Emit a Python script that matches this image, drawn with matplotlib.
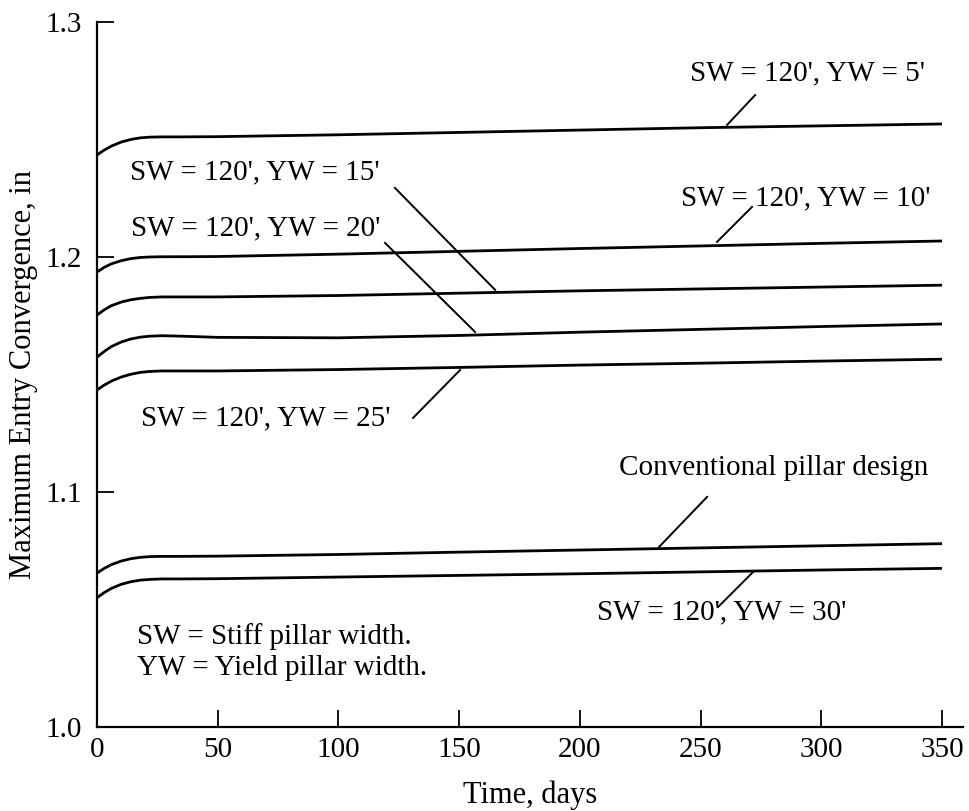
import matplotlib.pyplot as plt

plt.rcParams['font.family'] = ['Liberation Serif', 'DejaVu Serif']

# Zeit in Tagen
days = [0, 3, 6, 10, 14, 18, 22, 27, 35, 50, 100, 150, 200, 250, 300, 350]

# Konvergenz je Kurve, in inch
yw5 = [1.2434, 1.2455, 1.2472, 1.2489, 1.2500, 1.2507, 1.2510, 1.2511, 1.2511, 1.2512,
       1.2520, 1.2530, 1.2540, 1.2550, 1.2558, 1.2566]
yw10 = [1.1936, 1.1956, 1.1971, 1.1984, 1.1993, 1.1998, 1.2000, 1.2001, 1.2001, 1.2002,
        1.2012, 1.2024, 1.2036, 1.2047, 1.2058, 1.2068]
yw15 = [1.1753, 1.1775, 1.1793, 1.1808, 1.1818, 1.1824, 1.1828, 1.1830, 1.1830, 1.1830,
        1.1836, 1.1846, 1.1856, 1.1864, 1.1872, 1.1880]
yw20 = [1.1574, 1.1598, 1.1619, 1.1638, 1.1651, 1.1659, 1.1663, 1.1665, 1.1663, 1.1658,
        1.1656, 1.1666, 1.1680, 1.1692, 1.1704, 1.1715]
yw25 = [1.1434, 1.1455, 1.1472, 1.1489, 1.1501, 1.1509, 1.1513, 1.1515, 1.1515, 1.1515,
        1.1521, 1.1530, 1.1540, 1.1548, 1.1557, 1.1565]
conv = [1.0655, 1.0675, 1.0691, 1.0706, 1.0716, 1.0722, 1.0725, 1.0726, 1.0726, 1.0727,
        1.0734, 1.0744, 1.0753, 1.0762, 1.0771, 1.0780]
yw30 = [1.0550, 1.0572, 1.0590, 1.0607, 1.0618, 1.0625, 1.0628, 1.0630, 1.0630, 1.0631,
        1.0638, 1.0645, 1.0652, 1.0660, 1.0668, 1.0675]

curves = [yw5, yw10, yw15, yw20, yw25, conv, yw30]

# Beschriftungen: Text, Textposition, Hinweislinie (von, nach)
labels = ["SW = 120', YW = 5'", "SW = 120', YW = 10'", "SW = 120', YW = 15'",
          "SW = 120', YW = 20'", "SW = 120', YW = 25'", "Conventional pillar design",
          "SW = 120', YW = 30'"]
label_pos = [(294.3, 1.2783), (293.7, 1.2251), (65.2, 1.2362), (65.9, 1.2123),
             (69.8, 1.1315), (280.4, 1.1102), (258.9, 1.0489)]
leader_from = [(272.6, 1.2689), (271.3, 1.2213), (123.4, 1.2294), (119.3, 1.2060),
               (130.9, 1.1315), (252.7, 1.0979), (271.8, 1.0660)]
leader_to = [(261.0, 1.2562), (256.8, 1.2064), (164.9, 1.1860), (156.6, 1.1681),
             (150.4, 1.1519), (232.8, 1.0766), (257.3, 1.0511)]

fig = plt.figure(figsize=(9.69, 8.11), dpi=100)
ax = fig.add_axes([0.1001, 0.1036, 0.8937, 0.8693])

for c in curves:
    ax.plot(days, c, color='black', lw=2.0, solid_capstyle='butt')

for txt, p, a, b in zip(labels, label_pos, leader_from, leader_to):
    ax.text(p[0], p[1], txt, fontsize=21, ha='center', va='center')
    ax.plot([a[0], b[0]], [a[1], b[1]], color='black', lw=1.4)

ax.text(16.6, 1.0387, 'SW = Stiff pillar width.', fontsize=21, va='center')
ax.text(16.6, 1.0251, 'YW = Yield pillar width.', fontsize=21, va='center')

ax.set_xlim(0, 358.7)
ax.set_ylim(1.0, 1.3)
ax.set_xticks(range(0, 351, 50))
ax.set_yticks([1.0, 1.1, 1.2, 1.3])
ax.set_yticklabels(['1.0', '1.1', '1.2', '1.3'])
ax.spines['top'].set_visible(False)
ax.spines['right'].set_visible(False)
for s in ['left', 'bottom']:
    ax.spines[s].set_linewidth(1.6)
ax.tick_params(direction='in', length=12, width=1.3, labelsize=21)
ax.tick_params(axis='x', pad=7)
ax.tick_params(axis='y', pad=11)
ax.set_xlabel('Time, days', fontsize=22, labelpad=13)
ax.set_ylabel('Maximum Entry Convergence, in', fontsize=22, labelpad=5)

plt.savefig('out.png', dpi=100)
